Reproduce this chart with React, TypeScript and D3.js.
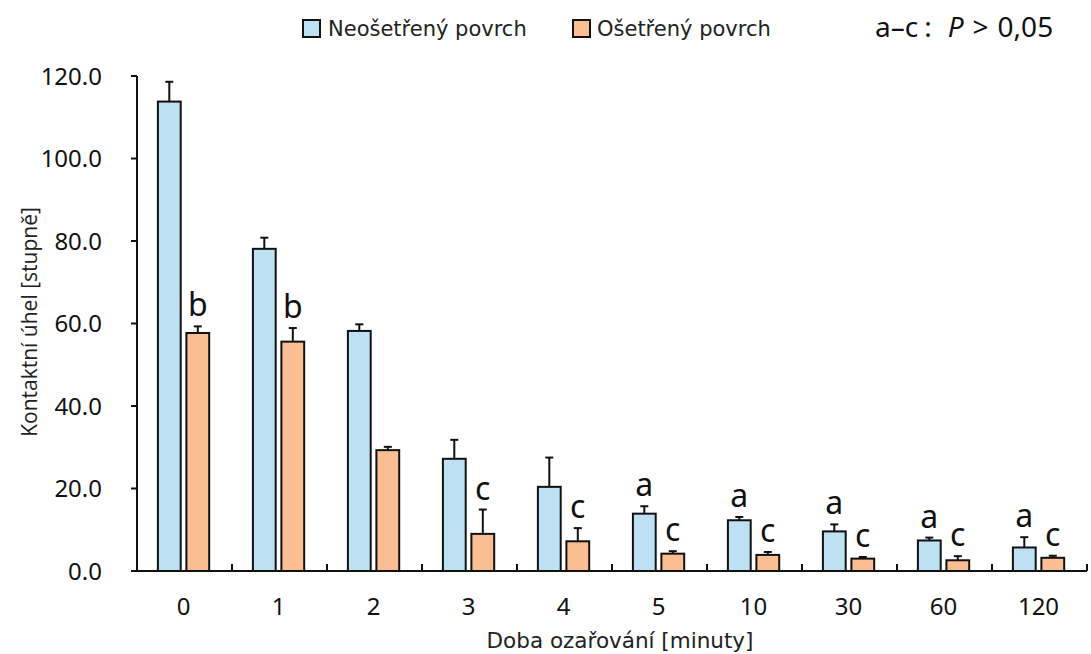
import * as d3 from "d3";

const categories = ["0", "1", "2", "3", "4", "5", "10", "30", "60", "120"];
const seriesNames = ["Neošetřený povrch", "Ošetřený povrch"];
const untreated = [113.8, 78.1, 58.2, 27.2, 20.4, 13.9, 12.3, 9.6, 7.4, 5.7];
const untreatedErr = [4.8, 2.7, 1.6, 4.6, 7.1, 1.8, 0.8, 1.7, 0.7, 2.5];
const treated = [57.7, 55.6, 29.3, 9.0, 7.2, 4.2, 3.9, 3.0, 2.6, 3.2];
const treatedErr = [1.6, 3.3, 0.8, 5.9, 3.2, 0.6, 0.7, 0.4, 1.0, 0.5];
const untreatedLetters = ["", "", "", "", "", "a", "a", "a", "a", "a"];
const treatedLetters = ["b", "b", "", "c", "c", "c", "c", "c", "c", "c"];
const yTicks = [0, 20, 40, 60, 80, 100, 120];

const colors = ["#bde0f3", "#fbbe93"];

const W = 1091;
const H = 654;
const margin = { top: 76, right: 4, bottom: 83, left: 137 };

export default function App() {
  const innerW = W - margin.left - margin.right;
  const innerH = H - margin.top - margin.bottom;

  const x0 = d3.scaleBand().domain(categories).range([0, innerW]).padding(0);
  const x1 = d3
    .scaleBand()
    .domain(seriesNames)
    .range([x0.bandwidth() * 0.22, x0.bandwidth() * 0.76])
    .paddingInner(0.2);
  const y = d3.scaleLinear().domain([0, 120]).range([innerH, 0]);

  const series = [
    { name: seriesNames[0], values: untreated, err: untreatedErr, letters: untreatedLetters, color: colors[0] },
    { name: seriesNames[1], values: treated, err: treatedErr, letters: treatedLetters, color: colors[1] },
  ];

  const boundaries = categories.map((c) => x0(c)! + x0.bandwidth());

  return (
    <svg width={W} height={H} style={{ position: "absolute", left: 0, top: 0, background: "#fff" }}>
      {/* legend */}
      <g fontFamily="DejaVu Sans" fontSize={21} fill="#222">
        <rect x={303} y={20} width={17} height={17} fill={colors[0]} stroke="#111" strokeWidth={2} />
        <text x={328} y={36}>{seriesNames[0]}</text>
        <rect x={573} y={20} width={17} height={17} fill={colors[1]} stroke="#111" strokeWidth={2} />
        <text x={597} y={36}>{seriesNames[1]}</text>
      </g>
      <text x={875} y={37} fontFamily="Noto Sans" fontSize={28} fill="#111">
        a–c
        <tspan dx={6}>:</tspan>
        <tspan dx={16} fontStyle="italic">P</tspan>
        <tspan dx={9}>&gt;</tspan>
        <tspan dx={9}>0,05</tspan>
      </text>

      <g transform={`translate(${margin.left},${margin.top})`}>
        {/* bars */}
        {series.map((s) => (
          <g key={s.name}>
            {categories.map((c, i) => {
              const bx = x0(c)! + x1(s.name)!;
              const bw = x1.bandwidth();
              const top = y(s.values[i]);
              const etop = y(s.values[i] + s.err[i]);
              const cx = bx + bw / 2;
              return (
                <g key={c}>
                  <line x1={cx} x2={cx} y1={top} y2={etop} stroke="#111" strokeWidth={2} />
                  <line x1={cx - 4} x2={cx + 4} y1={etop} y2={etop} stroke="#111" strokeWidth={2} />
                  <rect x={bx} y={top} width={bw} height={innerH - top} fill={s.color} stroke="#111" strokeWidth={2} />
                  {s.letters[i] && (
                    <text x={cx} y={etop - 10} textAnchor="middle" fontFamily="Noto Sans" fontSize={32} fill="#111">
                      {s.letters[i]}
                    </text>
                  )}
                </g>
              );
            })}
          </g>
        ))}

        {/* y axis */}
        <line x1={0} x2={0} y1={0} y2={innerH} stroke="#111" strokeWidth={2} />
        {yTicks.map((t) => (
          <g key={t} transform={`translate(0,${y(t)})`}>
            <line x1={-6} x2={0} stroke="#111" strokeWidth={2} />
            <text x={-35} dy="0.36em" textAnchor="end" fontFamily="Noto Sans" fontSize={24} fill="#111">
              {t.toFixed(1)}
            </text>
          </g>
        ))}

        {/* x axis */}
        <line x1={0} x2={innerW} y1={innerH} y2={innerH} stroke="#111" strokeWidth={2} />
        {boundaries.map((bx, i) => (
          <line key={i} x1={bx} x2={bx} y1={innerH} y2={innerH - 7} stroke="#111" strokeWidth={2} />
        ))}
        {categories.map((c) => (
          <text
            key={c}
            x={x0(c)! + x0.bandwidth() / 2 - 1}
            y={innerH + 44}
            textAnchor="middle"
            fontFamily="Noto Sans"
            fontSize={24}
            fill="#111"
          >
            {c}
          </text>
        ))}
      </g>

      <text x={620} y={648} textAnchor="middle" fontFamily="DejaVu Sans" fontSize={21.5} fill="#222">
        Doba ozařování [minuty]
      </text>

      <text
        transform={`translate(37,322) rotate(-90)`}
        textAnchor="middle"
        fontFamily="Open Sans"
        fontSize={21}
        fill="#222"
      >
        Kontaktní úhel [stupně]
      </text>
    </svg>
  );
}
